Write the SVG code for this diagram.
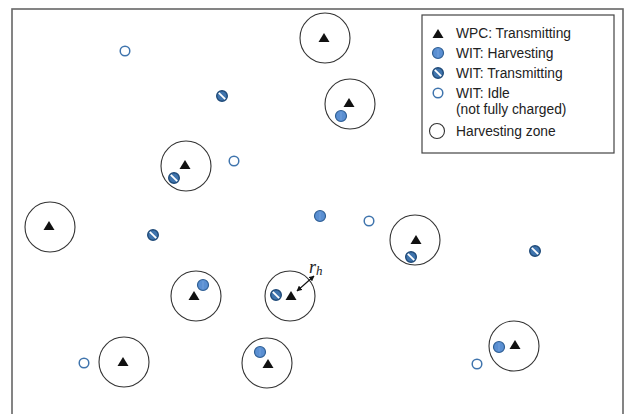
<svg xmlns="http://www.w3.org/2000/svg" width="626" height="414" viewBox="0 0 626 414">
<defs>
<style>
.zone{fill:none;stroke:#333;stroke-width:1.1}
.frame{fill:#fff;stroke:#666;stroke-width:1.6}
.lbox{fill:#fff;stroke:#444;stroke-width:1.2}
.lt{font-family:"Liberation Sans",Arial,sans-serif;font-size:13.8px;fill:#222}
.rh{font-family:"Liberation Serif","Times New Roman",serif;font-style:italic;font-size:18px;fill:#222}
</style>
<g id="wpc"><path d="M0,-5 L5.5,4 L-5.5,4 Z" fill="#111"/></g>
<g id="harv"><circle r="5.5" fill="#5a8fd2" stroke="#2f5f94" stroke-width="1.2"/><line x1="0" y1="-3.5" x2="0" y2="3.5" stroke="#8db4e6" stroke-width="1" stroke-dasharray="1,1"/></g>
<g id="trans"><circle r="5.3" fill="#3f74ad" stroke="#1f4a78" stroke-width="1.4"/><line x1="-3.2" y1="-3.2" x2="3.2" y2="3.2" stroke="#fff" stroke-width="1.8"/></g>
<g id="idle"><circle r="4.8" fill="#fff" stroke="#3f74ad" stroke-width="1.5"/></g>
<marker id="ah" viewBox="0 0 10 10" refX="9" refY="5" markerWidth="5" markerHeight="5" orient="auto-start-reverse"><path d="M0,0 L10,5 L0,10 Z" fill="#111"/></marker>
</defs>
<rect width="626" height="414" fill="#fff"/>
<rect id="frame" class="frame" x="12" y="9" width="611" height="420"/>

<g id="n1"><circle class="zone" cx="325" cy="38" r="25"/><use href="#wpc" x="324" y="38"/></g>
<g id="n2"><circle class="zone" cx="350" cy="104" r="25"/><use href="#wpc" x="349" y="103"/><use href="#harv" x="341" y="116"/></g>
<g id="n3"><circle class="zone" cx="186" cy="166" r="25"/><use href="#wpc" x="185" y="165"/><use href="#trans" x="174" y="178"/></g>
<g id="n4"><circle class="zone" cx="50" cy="227" r="25"/><use href="#wpc" x="49" y="226"/></g>
<g id="n5"><circle class="zone" cx="415" cy="240" r="25"/><use href="#wpc" x="416" y="240"/><use href="#trans" x="411" y="257"/></g>
<g id="n6"><circle class="zone" cx="196" cy="296" r="25"/><use href="#wpc" x="194" y="296"/><use href="#harv" x="203" y="285"/></g>
<g id="n7"><circle class="zone" cx="290" cy="296" r="25"/><use href="#wpc" x="291" y="296"/><use href="#trans" x="276" y="295"/></g>
<g id="n8"><circle class="zone" cx="124" cy="362" r="25"/><use href="#wpc" x="123" y="362"/></g>
<g id="n9"><circle class="zone" cx="267" cy="363" r="25"/><use href="#wpc" x="268" y="364"/><use href="#harv" x="260" y="352"/></g>
<g id="n10"><circle class="zone" cx="514" cy="346" r="25"/><use href="#wpc" x="515" y="345"/><use href="#harv" x="499" y="347"/></g>

<g id="wits">
<use href="#idle" x="125" y="51"/>
<use href="#trans" x="222" y="96"/>
<use href="#idle" x="234" y="161"/>
<use href="#trans" x="153" y="235"/>
<use href="#harv" x="320" y="216"/>
<use href="#idle" x="369" y="221"/>
<use href="#trans" x="535" y="251"/>
<use href="#idle" x="84" y="363"/>
<use href="#idle" x="477" y="364"/>
</g>

<g id="connectors">
<line x1="297" y1="291" x2="314" y2="276" stroke="#111" stroke-width="1.1" marker-start="url(#ah)" marker-end="url(#ah)"/>
</g>
<text class="rh" x="309" y="273">r<tspan font-size="13" dy="2">h</tspan></text>

<g id="legend">
<rect class="lbox" x="422" y="15" width="192" height="138"/>
<use href="#wpc" x="438" y="34"/>
<text class="lt" x="456" y="38">WPC: Transmitting</text>
<use href="#harv" x="438" y="53"/>
<text class="lt" x="456" y="58">WIT: Harvesting</text>
<use href="#trans" x="438" y="73"/>
<text class="lt" x="456" y="78">WIT: Transmitting</text>
<use href="#idle" x="438" y="93"/>
<text class="lt" x="456" y="98">WIT: Idle</text>
<text class="lt" x="456" y="114">(not fully charged)</text>
<circle class="zone" cx="437" cy="131" r="7.5"/>
<text class="lt" x="456" y="136">Harvesting zone</text>
</g>
</svg>
